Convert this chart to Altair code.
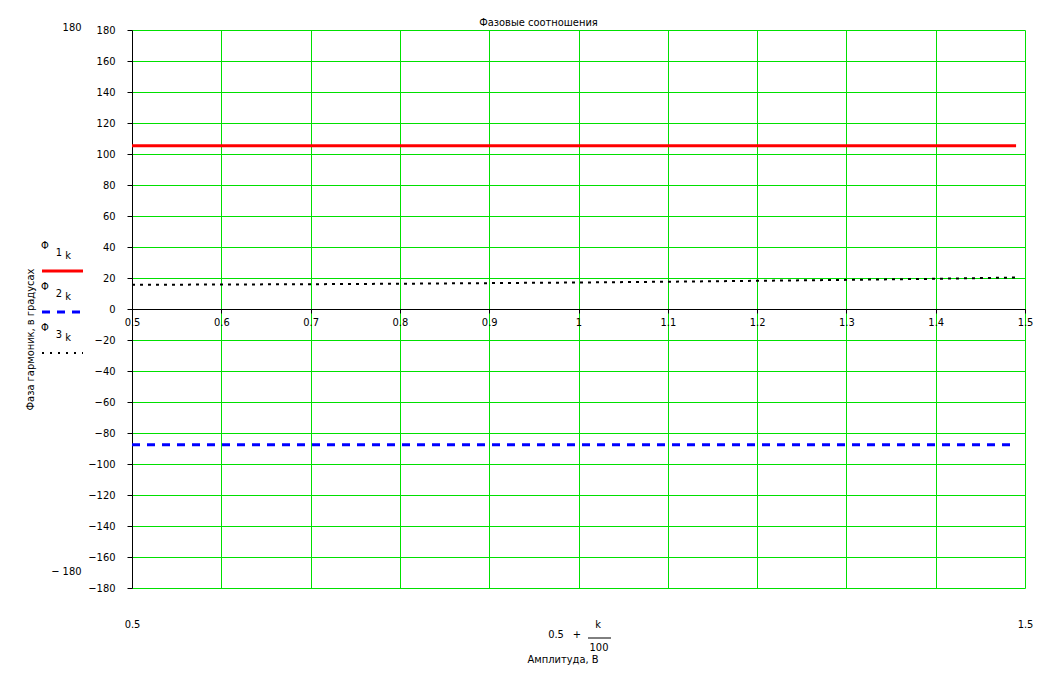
import altair as alt
import pandas as pd

FONT = "Liberation Sans Narrow, DejaVu Sans Condensed, Arial Narrow, sans-serif"
FS = 11
GREEN = "#00e000"

# ---- data ----
k_x = [0.5, 0.6, 0.7, 0.8, 0.9, 1.0, 1.1, 1.2, 1.3, 1.4, 1.49]
phi1 = [105.4, 105.4, 105.4, 105.4, 105.4, 105.4, 105.4, 105.4, 105.4, 105.4, 105.4]
phi2 = [-87.5, -87.5, -87.5, -87.5, -87.5, -87.5, -87.5, -87.5, -87.5, -87.5, -87.5]
phi3 = [15.6, 15.8, 16.0, 16.3, 16.7, 17.1, 17.6, 18.2, 18.8, 19.5, 20.3]

x_ticks = [0.5, 0.6, 0.7, 0.8, 0.9, 1.0, 1.1, 1.2, 1.3, 1.4, 1.5]
y_ticks = [-180, -160, -140, -120, -100, -80, -60, -40, -20, 0,
           20, 40, 60, 80, 100, 120, 140, 160, 180]
x_range = [0.5, 1.5]
y_range = [-180, 180]

legend_nums = ["1", "2", "3"]
legend_colors = ["#ff0000", "#0000ff", "#000000"]
legend_dashes = [[1, 0], [8, 7], [2, 6]]

title_text = "Фазовые соотношения"
y_title = "Фаза гармоник, в градусах"
x_title = "Амплитуда, В"

df = pd.DataFrame({"x": k_x, "p1": phi1, "p2": phi2, "p3": phi3})

xs = alt.Scale(domain=x_range, nice=False, zero=False)
ys = alt.Scale(domain=y_range, nice=False, zero=False)

grid_x_axis = alt.Axis(orient="bottom", values=x_ticks, grid=True, gridColor=GREEN,
                       gridOpacity=1, gridWidth=1, labels=False, ticks=False,
                       domain=False, title=None)
zero_x_axis = alt.Axis(orient="bottom", offset=-279, values=x_ticks, grid=False,
                       domain=True, domainColor="black", domainWidth=1,
                       ticks=True, tickColor="black", tickSize=4,
                       labelPadding=3, labelFlush=False, labelOverlap=False,
                       format="~g", title=None)
range_x_axis = alt.Axis(orient="bottom", values=x_range, grid=False, domain=False,
                        ticks=False, labelPadding=30, labelFlush=False,
                        labelOverlap=False, format="~g", title=None)

main_y_axis = alt.Axis(orient="left", values=y_ticks, grid=True, gridColor=GREEN,
                       gridOpacity=1, gridWidth=1, domain=True, domainColor="black",
                       ticks=True, tickColor="black", tickSize=5, labelPadding=12,
                       labelOverlap=False, title=y_title, titleX=-102, titleY=309,
                       titleAngle=270, titleAlign="center", titleBaseline="middle",
                       titleFont=FONT, titleFontSize=FS, titleFontWeight="normal",
                       titleColor="black")
range_y_axis = alt.Axis(orient="left", values=y_range, grid=False, domain=False,
                        ticks=False, offset=45, labelPadding=6, labelOverlap=False,
                        labelExpr="datum.value < 0 ? '\u2212 180' : '180'",
                        labelOffset={"condition": {"test": "datum.value < 0", "value": -17},
                                     "value": -3},
                        title=None)

red = alt.Chart(df).mark_line(color="#ff0000", strokeWidth=3).encode(
    x=alt.X("x:Q", scale=xs, axis=grid_x_axis),
    y=alt.Y("p1:Q", scale=ys, axis=main_y_axis),
)
blue = alt.Chart(df).mark_line(color="#0000ff", strokeWidth=3, strokeDash=[8, 7]).encode(
    x=alt.X("x:Q", scale=xs, axis=zero_x_axis),
    y=alt.Y("p2:Q", scale=ys, axis=range_y_axis),
)
dots = alt.Chart(df).mark_line(color="black", strokeWidth=2, strokeDash=[3, 5]).encode(
    x=alt.X("x:Q", scale=xs, axis=range_x_axis),
    y=alt.Y("p3:Q", scale=ys, axis=None),
)

layers = [red, blue, dots]

# ---- hand-made Mathcad-style legend (left of the plot) ----
one = pd.DataFrame({"t": [""]})
for i, (num, col, dash) in enumerate(zip(legend_nums, legend_colors, legend_dashes)):
    base_y = 216 + i * 41
    layers.append(alt.Chart(one).mark_text(text="Φ", font=FONT, fontSize=FS, align="center",
                                           baseline="middle", color="black").encode(
        x=alt.value(-87), y=alt.value(base_y)))
    layers.append(alt.Chart(one).mark_text(text=num, font=FONT, fontSize=FS, align="center",
                                           baseline="middle", color="black").encode(
        x=alt.value(-73), y=alt.value(base_y + 7)))
    layers.append(alt.Chart(one).mark_text(text="k", font=FONT, fontSize=FS, align="center",
                                           baseline="middle", color="black").encode(
        x=alt.value(-64), y=alt.value(base_y + 10)))
    layers.append(alt.Chart(one).mark_rule(color=col, strokeWidth=3 if i < 2 else 2,
                                           strokeDash=dash).encode(
        x=alt.value(-90), x2=alt.value(-49), y=alt.value(base_y + 25)))

# ---- x-axis formula and title ----
def txt(s, x, y):
    return alt.Chart(one).mark_text(text=s, font=FONT, fontSize=FS, align="center",
                                    baseline="middle", color="black").encode(
        x=alt.value(x), y=alt.value(y))

layers += [
    txt("0.5", 424, 605),
    txt("+", 445, 605),
    txt("k", 466, 595),
    txt("100", 467, 618),
    alt.Chart(one).mark_rule(color="black", strokeWidth=1).encode(
        x=alt.value(456), x2=alt.value(479), y=alt.value(608)),
    txt(x_title, 431, 630),
]

chart = alt.layer(*layers).resolve_axis(x="independent", y="independent").properties(
    width=893, height=558,
    title=alt.TitleParams(title_text, font=FONT, fontSize=FS, fontWeight="normal",
                          anchor="middle", dx=-40, offset=-7, color="black"),
    autosize=alt.AutoSizeParams(type="none"),
    padding={"left": 124, "top": 22, "right": 28, "bottom": 79},
).configure_view(stroke=None).configure_axis(
    labelFont=FONT, labelFontSize=FS, labelColor="black"
)

chart.save("out.html", embed_options={"renderer": "svg", "actions": False})
